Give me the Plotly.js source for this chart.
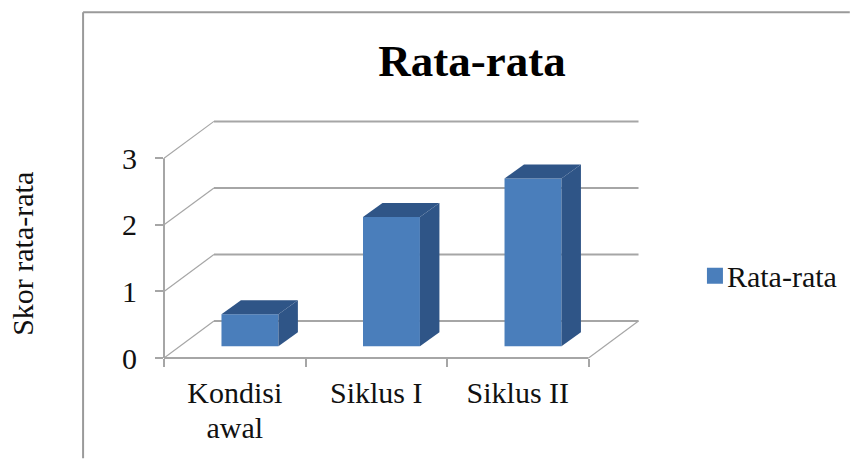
<!DOCTYPE html>
<html><head><meta charset="utf-8">
<script src="https://cdn.plot.ly/plotly-3.0.1.min.js"></script>
<style>html,body{margin:0;padding:0;background:#fff}#c{width:850px;height:459px}</style>
</head><body><div id="c"></div>
<script>
const categories = ["Kondisi<br>awal", "Siklus I", "Siklus II"];
const seriesName = "Rata-rata";
const values = [0.48, 1.94, 2.52];
const yTicks = [0, 1, 2, 3];
const xDividers = [0, 1, 2, 3];

const W = 850, H = 459, L = 163.5, R = 645, B = 358.5, T = 115;
const yUnitPx = 66.7, xUnitPx = 141.67;
const wallDx = 50 / xUnitPx, wallDy = 37 / yUnitPx;
const barBase = 11.8 / yUnitPx, barShift = 15.2 / xUnitPx, barWidth = 57 / xUnitPx;
const barDx = 19.5 / xUnitPx, barDy = 14 / yUnitPx;
const front = "#4a7ebb", dark = "#2f5587", grid = "#a6a6a6", ink = "#111111";
const font = "Liberation Serif, Times New Roman, serif";
const centers = categories.map((_, i) => i + 0.5);
const barX = centers.map(c => c + barShift);
const xMax = (R - L) / xUnitPx, yMax = (B - T) / yUnitPx;

function face(xs, ys) {
  return {type: "scatter", mode: "lines", x: xs, y: ys, fill: "toself", fillcolor: dark,
    line: {width: 0, color: dark}, hoverinfo: "skip", showlegend: false};
}
const traces = [{
  type: "bar", x: barX, y: values, base: barBase, width: barWidth,
  marker: {color: front, line: {width: 0}}, name: seriesName, showlegend: false
}];
values.forEach((v, i) => {
  const l = barX[i] - barWidth / 2, r = barX[i] + barWidth / 2, t = barBase + v;
  traces.push(face([l, r, r + barDx, l + barDx, l], [t, t, t + barDy, t + barDy, t]));
  traces.push(face([r, r + barDx, r + barDx, r, r], [barBase, barBase + barDy, t + barDy, t, barBase]));
});
traces.push({type: "scatter", mode: "markers", x: [null], y: [null], xaxis: "x2", name: seriesName,
  marker: {symbol: "square", size: 16, color: front}, showlegend: true});

const shapes = [];
yTicks.forEach(v => {
  shapes.push({type: "line", layer: "below", xref: "x", yref: "y", x0: wallDx, x1: 3 + wallDx,
    y0: v + wallDy, y1: v + wallDy, line: {color: grid, width: 2}});
  shapes.push({type: "line", layer: "below", xref: "x", yref: "y", x0: 0, x1: wallDx,
    y0: v, y1: v + wallDy, line: {color: grid, width: 1.2}});
});
shapes.push({type: "line", layer: "below", xref: "x", yref: "y", x0: 3, x1: 3 + wallDx,
  y0: 0, y1: wallDy, line: {color: grid, width: 1.2}});
shapes.push({type: "line", layer: "below", xref: "x", yref: "paper", x0: 0, x1: 3, y0: 0, y1: 0,
  line: {color: grid, width: 2}});
shapes.push({type: "line", layer: "below", xref: "paper", yref: "y", x0: 0, x1: 0, y0: 0, y1: 3,
  line: {color: grid, width: 2}});
// chart frame
const px = x => (x - L) / (R - L), py = y => (B - y) / (B - T);
shapes.push({type: "line", xref: "paper", yref: "paper", x0: px(82.5), x1: px(850), y0: py(12), y1: py(12),
  line: {color: "#9a9a9a", width: 2}});
shapes.push({type: "line", xref: "paper", yref: "paper", x0: px(82.5), x1: px(82.5), y0: py(12), y1: py(459),
  line: {color: "#9a9a9a", width: 2}});

const layout = {
  width: W, height: H, paper_bgcolor: "#ffffff", plot_bgcolor: "rgba(0,0,0,0)",
  margin: {l: L, r: W - R, t: T, b: H - B, pad: 0, autoexpand: false},
  font: {family: font, color: ink},
  title: {text: "Rata-rata", font: {family: font, size: 45, color: "#000", weight: "bold"},
    x: 472 / W, xanchor: "center", xref: "container", y: 1 - 60 / H, yanchor: "middle", yref: "container"},
  xaxis: {range: [0, xMax], tickmode: "array", tickvals: xDividers, ticktext: xDividers.map(() => ""),
    ticks: "outside", ticklen: 8, tickwidth: 2, tickcolor: grid, showgrid: false, zeroline: false, showline: false, fixedrange: true},
  xaxis2: {overlaying: "x", anchor: "y", side: "bottom", range: [0, xMax], tickmode: "array", tickvals: centers,
    ticktext: categories, ticks: "", tickangle: 0, tickfont: {family: font, size: 30, color: ink}, ticklabelstandoff: 14,
    showgrid: false, zeroline: false, showline: false, fixedrange: true},
  yaxis: {range: [0, yMax], tickmode: "array", tickvals: yTicks, ticktext: yTicks.map(String),
    ticks: "outside", ticklen: 8, tickwidth: 2, tickcolor: grid, showgrid: false, zeroline: false, showline: false,
    tickfont: {family: font, size: 30, color: ink}, ticklabelstandoff: 12, fixedrange: true},
  legend: {x: px(695), y: py(276), xanchor: "left", yanchor: "middle", font: {family: font, size: 30, color: ink},
    bgcolor: "rgba(0,0,0,0)", itemwidth: 30},
  annotations: [{text: "Skor rata-rata", xref: "paper", yref: "paper", x: px(22), y: py(254.5), textangle: -90,
    showarrow: false, xanchor: "center", yanchor: "middle", font: {family: font, size: 30, color: ink}}],
  shapes: shapes, showlegend: true
};
Plotly.newPlot("c", traces, layout, {displayModeBar: false, staticPlot: true}).then(gd => {
  const t = gd.querySelector(".legendtext");
  if (t) t.setAttribute("x", +t.getAttribute("x") - 8);
  gd.querySelectorAll(".x2tick tspan.line").forEach(s => {
    if (parseFloat(s.getAttribute("dy")) > 0) s.setAttribute("dy", "1.15em");
  });
});
</script></body></html>
